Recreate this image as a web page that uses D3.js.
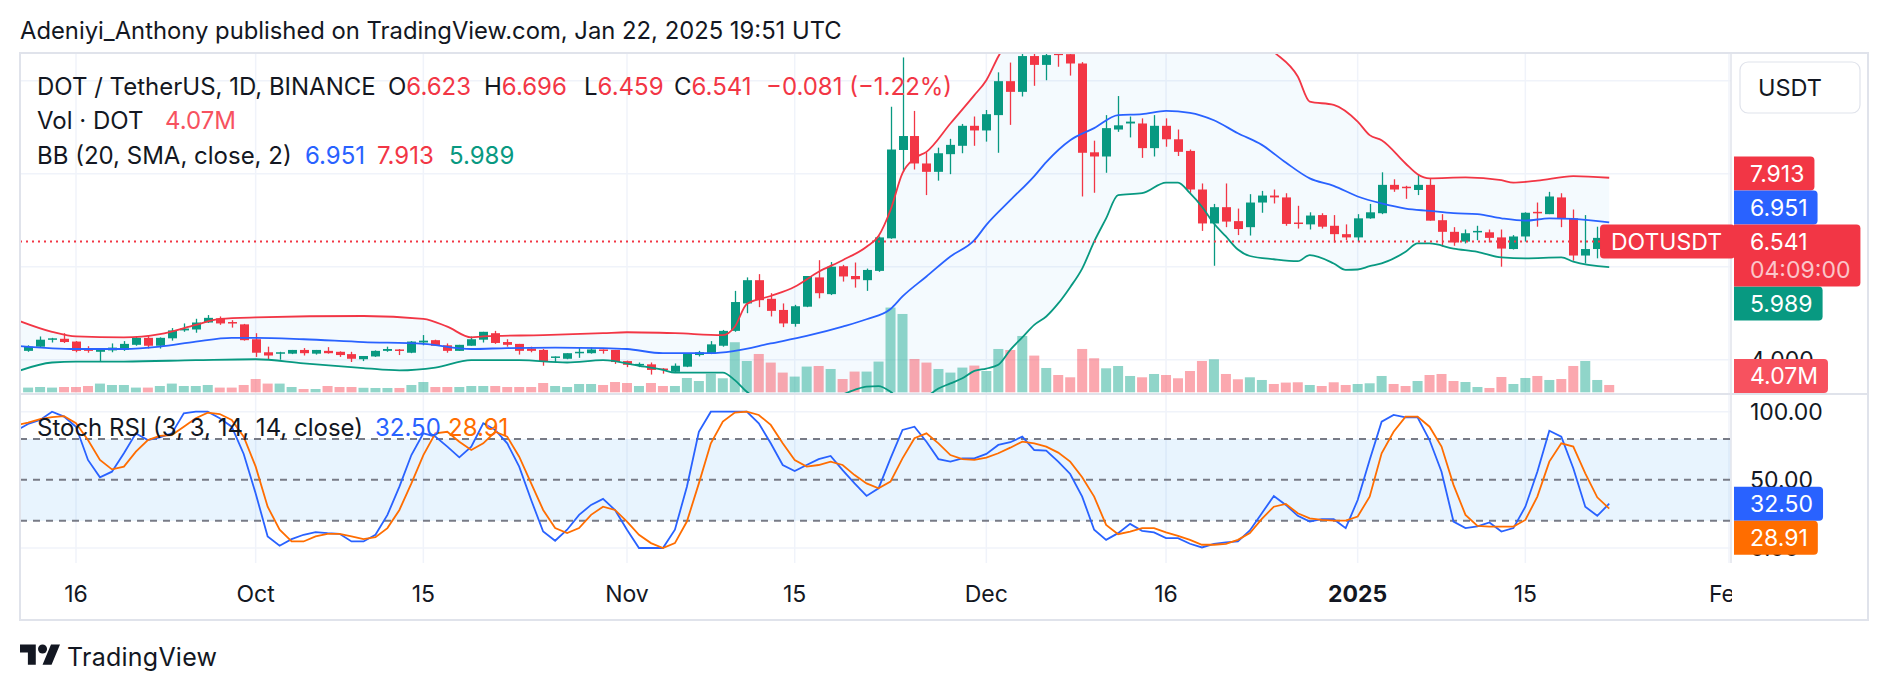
<!DOCTYPE html>
<html>
<head>
<meta charset="utf-8">
<script src="https://cdn.jsdelivr.net/npm/d3@7"></script>
<style>
  body { margin: 0; background: #fff; }
  svg { display: block; font-family: Inter, "Noto Sans", sans-serif; }
</style>
</head>
<body>
<div id="chart"></div>
<script>
var width = 1888,
    height = 690;

// daily candles, first one on Sep 12 2024
var firstDay = "2024-09-12";
var open = [
  4.19, 4.28, 4.43, 4.45, 4.39, 4.24, 4.17, 4.20, 4.21, 4.32, 4.47, 4.30, 4.46, 4.63, 4.65, 4.80, 4.89, 4.81, 4.76,
  4.44, 4.16, 4.14, 4.13, 4.21, 4.13, 4.19, 4.17, 4.12, 4.01, 4.07, 4.19, 4.22, 4.15, 4.37, 4.42, 4.31, 4.19, 4.30, 4.43, 4.57, 4.38, 4.34, 4.24, 4.21, 4.04, 4.02, 4.14, 4.14, 4.22, 4.21,
  3.97, 3.89, 3.90, 3.81, 3.74, 3.85, 4.10, 4.14, 4.30, 4.62, 5.21, 5.71, 5.31, 5.07, 4.77, 5.14, 5.77, 5.41, 6.01, 5.80, 5.71, 5.91, 6.61, 8.51, 8.81, 8.22, 8.04, 8.42, 8.60, 9.03,
  8.93, 9.26, 9.99, 9.76, 10.53, 10.34, 10.62, 10.57, 10.37, 8.46, 8.37, 8.95, 9.08, 9.08, 8.55, 9.03, 8.74, 8.49, 7.66, 6.93, 7.28, 6.98, 6.85, 7.38, 7.53, 7.49, 6.95, 6.91, 7.11, 6.88, 6.70,
  6.63, 7.04, 7.15, 7.76, 7.72, 7.65, 7.76, 7.00, 6.75, 6.54, 6.74, 6.74, 6.63, 6.38, 6.65, 7.18, 7.13, 7.49, 7.04, 6.24, 6.38, 6.623
];
var high = [
  4.31, 4.50, 4.47, 4.57, 4.40, 4.29, 4.22, 4.35, 4.40, 4.50, 4.53, 4.48, 4.68, 4.78, 4.88, 4.96, 4.93, 4.85, 4.77,
  4.57, 4.28, 4.17, 4.21, 4.25, 4.21, 4.27, 4.18, 4.17, 4.08, 4.20, 4.28, 4.23, 4.40, 4.53, 4.43, 4.35, 4.32, 4.50, 4.60, 4.62, 4.44, 4.34, 4.28, 4.23, 4.07, 4.14, 4.26, 4.26, 4.22, 4.21,
  3.98, 3.94, 3.94, 3.82, 3.92, 4.14, 4.19, 4.40, 4.64, 5.48, 5.77, 5.84, 5.43, 5.21, 5.18, 5.80, 6.14, 6.10, 6.04, 6.09, 5.96, 6.65, 9.44, 10.50, 9.35, 8.46, 8.56, 8.75, 9.07, 9.23,
  9.37, 10.18, 10.39, 10.75, 10.80, 10.70, 10.75, 10.80, 10.40, 8.71, 9.26, 9.67, 9.23, 9.19, 9.26, 9.19, 8.95, 8.52, 7.79, 7.35, 7.79, 7.25, 7.56, 7.63, 7.66, 7.58, 7.31, 7.17, 7.15, 7.11, 6.91,
  7.13, 7.35, 8.03, 7.88, 7.74, 7.99, 7.90, 7.13, 6.85, 6.80, 6.88, 6.80, 6.80, 6.68, 7.17, 7.38, 7.61, 7.58, 7.23, 7.11, 6.86, 6.696
];
var low = [
  4.17, 4.26, 4.37, 4.36, 4.16, 4.15, 3.97, 4.16, 4.19, 4.30, 4.24, 4.24, 4.41, 4.60, 4.58, 4.79, 4.75, 4.69, 4.41,
  4.06, 4.01, 4.00, 4.12, 4.09, 4.11, 4.13, 4.06, 3.95, 3.97, 4.06, 4.17, 4.10, 4.14, 4.31, 4.30, 4.15, 4.19, 4.30, 4.37, 4.34, 4.28, 4.11, 4.16, 3.87, 3.94, 4.01, 4.04, 4.13, 4.13, 3.91,
  3.84, 3.84, 3.68, 3.70, 3.73, 3.84, 4.07, 4.12, 4.28, 4.60, 5.00, 5.13, 4.93, 4.70, 4.71, 5.13, 5.32, 5.39, 5.68, 5.55, 5.48, 5.89, 6.60, 8.04, 8.09, 7.54, 7.85, 7.99, 8.44, 8.60,
  8.69, 8.45, 9.05, 9.66, 9.89, 10.01, 10.30, 10.11, 7.51, 7.59, 8.02, 8.90, 8.78, 8.34, 8.37, 8.58, 8.38, 7.59, 6.77, 6.02, 6.85, 6.68, 6.67, 7.16, 7.36, 6.88, 6.82, 6.80, 6.82, 6.52, 6.57,
  6.54, 7.03, 7.13, 7.61, 7.46, 7.54, 6.99, 6.43, 6.45, 6.50, 6.57, 6.52, 6.00, 6.37, 6.54, 6.86, 7.13, 6.85, 6.13, 6.07, 6.18, 6.459
];
var close = [
  4.28, 4.43, 4.46, 4.38, 4.19, 4.19, 4.21, 4.26, 4.34, 4.47, 4.30, 4.47, 4.63, 4.67, 4.80, 4.90, 4.78, 4.78, 4.42,
  4.15, 4.09, 4.16, 4.21, 4.14, 4.21, 4.14, 4.10, 4.02, 4.08, 4.19, 4.23, 4.19, 4.39, 4.41, 4.30, 4.19, 4.32, 4.44, 4.60, 4.36, 4.32, 4.19, 4.19, 3.96, 4.07, 4.14, 4.17, 4.22, 4.19, 3.95,
  3.89, 3.91, 3.78, 3.78, 3.87, 4.14, 4.16, 4.33, 4.62, 5.24, 5.71, 5.28, 5.05, 4.78, 5.15, 5.80, 5.43, 6.00, 5.79, 5.73, 5.93, 6.63, 8.52, 8.81, 8.22, 8.04, 8.44, 8.62, 9.03, 8.93,
  9.28, 9.99, 9.76, 10.53, 10.34, 10.55, 10.55, 10.37, 8.45, 8.37, 8.98, 9.04, 9.12, 8.55, 9.03, 8.74, 8.47, 7.66, 6.93, 7.28, 6.97, 6.81, 7.38, 7.53, 7.49, 6.92, 6.93, 7.10, 6.86, 6.70, 6.63,
  7.04, 7.17, 7.76, 7.66, 7.69, 7.76, 6.99, 6.75, 6.52, 6.72, 6.77, 6.62, 6.39, 6.65, 7.16, 7.15, 7.51, 7.04, 6.24, 6.38, 6.62, 6.541
];
// volume in millions of DOT
var volume = [
  2.62, 2.95, 2.62, 2.95, 2.95, 3.51, 4.85, 4.07, 4.07, 2.62, 2.62, 3.51, 4.85, 3.51, 3.51, 4.07, 2.62, 2.62, 4.07,
  7.41, 4.85, 4.85, 2.95, 1.84, 1.84, 3.51, 2.95, 2.95, 2.51, 2.40, 2.40, 2.40, 4.07, 5.74, 2.95, 2.95, 2.95, 3.51, 3.51, 3.51, 2.95, 2.95, 2.95, 5.18, 3.51, 2.95, 4.63, 4.63, 4.07, 5.74,
  5.18, 3.51, 5.18, 3.51, 3.51, 7.97, 6.30, 10.31, 7.81, 27.9, 17.45, 21.35, 16.56, 10.98, 8.75, 14.33, 14.66, 12.99, 7.41, 11.54, 11.54, 17.12, 47.22, 43.65, 18.56, 16.56, 12.99, 10.98, 13.77, 14.89,
  11.87, 24.14, 23.58, 31.39, 20.46, 13.55, 9.64, 8.36, 24.14, 18.96, 13.38, 14.66, 9.09, 8.36, 10.20, 9.64, 7.81, 11.87, 17.45, 18.40, 10.20, 7.25, 8.36, 6.86, 4.63, 5.41, 5.58, 4.07, 3.51, 5.58, 4.07,
  4.63, 5.02, 9.09, 4.63, 3.51, 6.30, 9.64, 10.20, 6.30, 5.74, 2.95, 2.40, 8.53, 4.63, 7.97, 9.09, 6.86, 7.41, 14.66, 17.45, 6.86, 4.07
];

// Bollinger Bands (20, 2)
var bbBasis = [
  ["2024-09-11", 4.30], ["2024-09-16", 4.23], ["2024-09-20", 4.23], ["2024-09-23", 4.28], ["2024-09-26", 4.39],
  ["2024-09-29", 4.47], ["2024-10-01", 4.47], ["2024-10-05", 4.44], ["2024-10-10", 4.38], ["2024-10-15", 4.34],
  ["2024-10-19", 4.23], ["2024-10-22", 4.25], ["2024-10-26", 4.26], ["2024-10-30", 4.25], ["2024-11-01", 4.23],
  ["2024-11-04", 4.14], ["2024-11-08", 4.14], ["2024-11-10", 4.19], ["2024-11-13", 4.35], ["2024-11-16", 4.51],
  ["2024-11-19", 4.71], ["2024-11-21", 4.87], ["2024-11-23", 5.09], ["2024-11-24", 5.36], ["2024-11-26", 5.79],
  ["2024-11-28", 6.22], ["2024-11-30", 6.57], ["2024-12-01", 6.90], ["2024-12-03", 7.43], ["2024-12-05", 7.95],
  ["2024-12-06", 8.25], ["2024-12-08", 8.72], ["2024-12-10", 8.98], ["2024-12-12", 9.26], ["2024-12-14", 9.28],
  ["2024-12-16", 9.35], ["2024-12-18", 9.31], ["2024-12-20", 9.15], ["2024-12-22", 8.87], ["2024-12-24", 8.62],
  ["2024-12-26", 8.24], ["2024-12-28", 7.90], ["2024-12-30", 7.74], ["2025-01-01", 7.51], ["2025-01-03", 7.36],
  ["2025-01-05", 7.25], ["2025-01-07", 7.20], ["2025-01-09", 7.15], ["2025-01-11", 7.13], ["2025-01-13", 7.04],
  ["2025-01-15", 6.99], ["2025-01-17", 7.04], ["2025-01-19", 7.03], ["2025-01-22", 6.951]
];
var bbUpper = [
  ["2024-09-11", 4.86], ["2024-09-14", 4.60], ["2024-09-16", 4.50], ["2024-09-20", 4.48], ["2024-09-23", 4.55],
  ["2024-09-26", 4.75], ["2024-09-28", 4.88], ["2024-10-01", 4.91], ["2024-10-10", 4.94], ["2024-10-15", 4.88],
  ["2024-10-17", 4.71], ["2024-10-19", 4.48], ["2024-10-20", 4.50], ["2024-10-25", 4.53], ["2024-10-30", 4.57],
  ["2024-11-01", 4.59], ["2024-11-05", 4.57], ["2024-11-09", 4.53], ["2024-11-10", 4.71], ["2024-11-11", 5.20],
  ["2024-11-13", 5.37], ["2024-11-15", 5.57], ["2024-11-17", 5.89], ["2024-11-19", 6.14], ["2024-11-21", 6.43],
  ["2024-11-22", 6.66], ["2024-11-23", 7.22], ["2024-11-24", 8.01], ["2024-11-25", 8.33], ["2024-11-26", 8.47],
  ["2024-11-28", 9.08], ["2024-11-30", 9.69], ["2024-12-01", 10.01], ["2024-12-02", 10.52], ["2024-12-04", 11.3],
  ["2024-12-07", 11.9], ["2024-12-10", 12.3], ["2024-12-14", 12.3], ["2024-12-18", 12.0], ["2024-12-22", 11.2],
  ["2024-12-25", 10.62], ["2024-12-27", 10.09], ["2024-12-28", 9.55], ["2024-12-30", 9.48], ["2025-01-01", 9.12],
  ["2025-01-02", 8.83], ["2025-01-03", 8.72], ["2025-01-05", 8.22], ["2025-01-06", 7.99], ["2025-01-07", 7.90],
  ["2025-01-10", 7.92], ["2025-01-13", 7.86], ["2025-01-14", 7.81], ["2025-01-16", 7.85], ["2025-01-19", 7.95],
  ["2025-01-22", 7.913]
];
var bbLower = [
  ["2024-09-11", 3.74], ["2024-09-14", 3.94], ["2024-09-16", 3.96], ["2024-09-20", 3.96], ["2024-09-26", 3.99],
  ["2024-10-01", 4.01], ["2024-10-05", 3.92], ["2024-10-10", 3.82], ["2024-10-13", 3.77], ["2024-10-16", 3.83],
  ["2024-10-19", 3.99], ["2024-10-23", 3.99], ["2024-10-27", 3.94], ["2024-10-30", 3.99], ["2024-11-02", 3.87],
  ["2024-11-04", 3.78], ["2024-11-05", 3.72], ["2024-11-09", 3.72], ["2024-11-10", 3.56], ["2024-11-11", 3.31],
  ["2024-11-13", 3.10], ["2024-11-16", 3.05], ["2024-11-18", 3.15], ["2024-11-20", 3.35], ["2024-11-21", 3.42],
  ["2024-11-22", 3.43], ["2024-11-23", 3.31], ["2024-11-24", 3.10], ["2024-11-25", 3.05], ["2024-11-26", 3.20],
  ["2024-11-27", 3.38], ["2024-11-28", 3.49], ["2024-11-29", 3.60], ["2024-11-30", 3.76], ["2024-12-01", 3.81],
  ["2024-12-02", 3.89], ["2024-12-03", 4.21], ["2024-12-04", 4.48], ["2024-12-05", 4.75], ["2024-12-06", 4.93],
  ["2024-12-07", 5.21], ["2024-12-08", 5.56], ["2024-12-09", 5.96], ["2024-12-10", 6.54], ["2024-12-11", 7.04],
  ["2024-12-12", 7.54], ["2024-12-14", 7.58], ["2024-12-16", 7.81], ["2024-12-17", 7.81], ["2024-12-18", 7.58],
  ["2024-12-19", 7.29], ["2024-12-20", 6.93], ["2024-12-21", 6.65], ["2024-12-22", 6.37], ["2024-12-23", 6.23],
  ["2024-12-25", 6.16], ["2024-12-27", 6.12], ["2024-12-28", 6.25], ["2024-12-30", 6.07], ["2024-12-31", 5.93],
  ["2025-01-01", 5.94], ["2025-01-02", 6.01], ["2025-01-03", 6.07], ["2025-01-05", 6.32], ["2025-01-06", 6.50],
  ["2025-01-07", 6.50], ["2025-01-09", 6.39], ["2025-01-11", 6.32], ["2025-01-13", 6.20], ["2025-01-15", 6.18],
  ["2025-01-18", 6.20], ["2025-01-19", 6.11], ["2025-01-22", 5.989]
];

// Stoch RSI (3, 3, 14, 14), daily from Sep 11 2024
var stochFirstDay = "2024-09-11";
var stochK = [
  86, 91, 94, 100, 96.4, 89, 64.6, 51.9, 56, 69.5, 84.1, 79.2, 81.2, 84.1, 98.8, 100, 100, 95.2, 89, 69,
  40, 8.5, 1.7, 6.5, 9.7, 11.6, 10.9, 10.4, 4.8, 4.8, 9.7, 24.3, 45, 68.2, 84.1, 81.7, 74.4, 66.5, 74.4, 91.5, 86.6, 76.8, 59.7, 35.2, 12.1, 5.3, 13.4, 24.3, 31.6, 36, 27.9,
  13.4, 0, 0, 0, 13.4, 45, 85.3, 100, 100, 100, 100, 91.5, 76.8, 60.9, 56.5, 60.9, 65.2, 67.5, 57.2, 47.4, 38.2, 43.8, 65.8, 86.6, 89, 78, 65.2, 63.4, 65.8, 65.8,
  69, 75.6, 77.6, 81.7, 71.9, 71.4, 63.4, 54.3, 37.7, 13.4, 6, 10.9, 17.7, 12.6, 11.4, 7.2, 7.2, 3.1, 0.4, 3.1, 4.1, 4.8, 12.9, 25.5, 38.2, 31.6, 23.6, 19.4, 21.1, 21.1, 14.6,
  35.2, 64.6, 92.7, 97.6, 95.9, 95.9, 79.2, 56, 19.4, 14.6, 15.8, 18.7, 12.1, 14.6, 30.3, 56, 86, 81.7, 58.5, 30.3, 23.6, 32.5
];
var stochD = [
  90, 92, 94.5, 96, 96.8, 91.5, 79.2, 64.6, 57.7, 59.7, 70.7, 79.2, 82.2, 82.9, 89, 95.2, 99.3, 98.3, 94, 81.7,
  59.7, 30.3, 13.4, 4.8, 4.8, 8.5, 10.4, 10.4, 8.5, 6.5, 8, 14.6, 27.9, 47.4, 68.2, 84.1, 85.3, 78, 71.9, 76.8, 85.3, 81.7, 67, 47.4, 27.9, 14.6, 10.9, 14.6, 24.3, 30.3, 27.9,
  19.4, 9.7, 3.6, 0, 3.6, 19.4, 47.4, 76.8, 92.7, 99.3, 100, 97.6, 90.3, 76.8, 64.6, 59.7, 60.9, 63.4, 60.9, 53.5, 47.4, 43.8, 48.7, 65.8, 80.5, 84.1, 76.8, 68.2, 65.2, 64.6,
  66.3, 69.5, 73.6, 78, 76.8, 74.4, 70, 63.4, 51.9, 37.7, 16.9, 10.1, 12.1, 14.6, 14.6, 11.4, 8.9, 6, 2.4, 2.4, 3.1, 6, 10.9, 21.4, 30.3, 32.3, 25.5, 21.8, 20.6, 20.1, 20.1,
  23.1, 37.7, 69.5, 85.3, 96.4, 96.4, 89, 74.4, 46.3, 24.3, 16.2, 15.7, 15.7, 15.7, 20.6, 37.7, 63.4, 76.8, 74.4, 54.8, 37.2, 28.91
];

var timeTicks = ["2024-09-16", "2024-10-01", "2024-10-15", "2024-11-01", "2024-11-15", "2024-12-01", "2024-12-16", "2025-01-01", "2025-01-15", "2025-02-01"];
var timeLabels = ["16", "Oct", "15", "Nov", "15", "Dec", "16", "2025", "15", "Feb"];
var priceTicks = [4, 6, 8, 10];
var stochTicks = [0, 50, 100];
var stochLevels = [20, 50, 80];

var colors = { up: "#089981", down: "#F23645", volUp: "rgba(34,171,148,0.5)", volDown: "rgba(247,82,95,0.5)",
               basis: "#2962FF", upper: "#F23645", lower: "#089981", k: "#2962FF", d: "#FF6D00",
               text: "#131722", grid: "#f0f3fa", border: "#e0e3eb" };

// layout
var plotLeft = 20, plotRight = 1731, axisRight = 1868,
    priceTop = 53, priceBottom = 393, stochTop = 395, stochBottom = 563, timeBottom = 620;

var parseDay = d3.utcParse("%Y-%m-%d");

var x = d3.scaleUtc()
    .domain([parseDay("2024-09-16"), parseDay("2025-02-01")])
    .range([76, 1729]);

var y = d3.scaleLinear()
    .domain([4, 10])
    .range([359.7, 80.7]);

var yVol = d3.scaleLinear()
    .domain([0, 47.2])
    .range([392.3, 307.6]);

var yStoch = d3.scaleLinear()
    .domain([0, 100])
    .range([548, 411.7]);

var candles = open.map(function(o, i) {
  return { date: d3.utcDay.offset(parseDay(firstDay), i), o: o, h: high[i], l: low[i], c: close[i], v: volume[i] };
});
var stoch = stochK.map(function(k, i) {
  return { date: d3.utcDay.offset(parseDay(stochFirstDay), i), k: k, d: stochD[i] };
});

var svg = d3.select("#chart").append("svg")
    .attr("width", width)
    .attr("height", height);

svg.append("rect").attr("width", width).attr("height", height).attr("fill", "#fff");

var defs = svg.append("defs");
defs.append("clipPath").attr("id", "clip-price").append("rect")
    .attr("x", plotLeft).attr("y", priceTop)
    .attr("width", plotRight - plotLeft).attr("height", priceBottom - priceTop);
defs.append("clipPath").attr("id", "clip-stoch").append("rect")
    .attr("x", plotLeft).attr("y", stochTop)
    .attr("width", plotRight - plotLeft).attr("height", stochBottom - stochTop);

// grid
var grid = svg.append("g");
grid.selectAll(".vgrid").data(timeTicks).enter().append("line")
    .attr("x1", function(d) { return x(parseDay(d)); })
    .attr("x2", function(d) { return x(parseDay(d)); })
    .attr("y1", priceTop).attr("y2", stochBottom)
    .attr("stroke", colors.grid).attr("stroke-width", 1.5);
grid.selectAll(".hgrid").data(priceTicks).enter().append("line")
    .attr("x1", plotLeft).attr("x2", plotRight)
    .attr("y1", function(d) { return y(d); }).attr("y2", function(d) { return y(d); })
    .attr("stroke", colors.grid).attr("stroke-width", 1.5);

// price pane
var price = svg.append("g").attr("clip-path", "url(#clip-price)");

var bbLine = d3.line()
    .x(function(d) { return x(parseDay(d[0])); })
    .y(function(d) { return y(d[1]); })
    .curve(d3.curveMonotoneX);

price.append("path")
    .attr("d", bbLine(bbUpper) + "L" + bbLine(bbLower.slice().reverse()).slice(1) + "Z")
    .attr("fill", "rgba(33,150,243,0.05)");

price.selectAll(".vol").data(candles).enter().append("rect")
    .attr("x", function(d) { return x(d.date) - 5; })
    .attr("width", 10)
    .attr("y", function(d) { return yVol(d.v); })
    .attr("height", function(d) { return yVol(0) - yVol(d.v); })
    .attr("fill", function(d) { return d.c >= d.o ? colors.volUp : colors.volDown; });

price.selectAll(".wick").data(candles).enter().append("line")
    .attr("x1", function(d) { return Math.round(x(d.date)) + 0.5; })
    .attr("x2", function(d) { return Math.round(x(d.date)) + 0.5; })
    .attr("y1", function(d) { return y(d.h); })
    .attr("y2", function(d) { return y(d.l); })
    .attr("stroke", function(d) { return d.c >= d.o ? colors.up : colors.down; })
    .attr("stroke-width", 1.3);

price.selectAll(".body").data(candles).enter().append("rect")
    .attr("x", function(d) { return Math.round(x(d.date)) - 4; })
    .attr("width", 9)
    .attr("y", function(d) { return y(Math.max(d.o, d.c)); })
    .attr("height", function(d) { return Math.max(1.5, Math.abs(y(d.o) - y(d.c))); })
    .attr("fill", function(d) { return d.c >= d.o ? colors.up : colors.down; });

[[bbBasis, colors.basis], [bbUpper, colors.upper], [bbLower, colors.lower]].forEach(function(b) {
  price.append("path")
      .attr("d", bbLine(b[0]))
      .attr("fill", "none")
      .attr("stroke", b[1])
      .attr("stroke-width", 1.8);
});

var last = candles[candles.length - 1];
price.append("line")
    .attr("x1", plotLeft).attr("x2", plotRight)
    .attr("y1", y(last.c)).attr("y2", y(last.c))
    .attr("stroke", colors.down).attr("stroke-width", 2)
    .attr("stroke-dasharray", "2,4");

// stoch rsi pane
var st = svg.append("g").attr("clip-path", "url(#clip-stoch)");
st.append("rect")
    .attr("x", plotLeft).attr("width", plotRight - plotLeft)
    .attr("y", yStoch(80)).attr("height", yStoch(20) - yStoch(80))
    .attr("fill", "rgba(33,150,243,0.1)");
st.selectAll(".sgrid").data([0, 100]).enter().append("line")
    .attr("x1", plotLeft).attr("x2", plotRight)
    .attr("y1", function(d) { return yStoch(d); }).attr("y2", function(d) { return yStoch(d); })
    .attr("stroke", colors.grid).attr("stroke-width", 1.5);
st.selectAll(".level").data(stochLevels).enter().append("line")
    .attr("x1", plotLeft).attr("x2", plotRight)
    .attr("y1", function(d) { return yStoch(d); }).attr("y2", function(d) { return yStoch(d); })
    .attr("stroke", "#787B86").attr("stroke-width", 2)
    .attr("stroke-dasharray", "7,6");

var kLine = d3.line().x(function(d) { return x(d.date); }).y(function(d) { return yStoch(d.k); });
var dLine = d3.line().x(function(d) { return x(d.date); }).y(function(d) { return yStoch(d.d); });
st.append("path").datum(stoch).attr("d", kLine)
    .attr("fill", "none").attr("stroke", colors.k).attr("stroke-width", 1.8);
st.append("path").datum(stoch).attr("d", dLine)
    .attr("fill", "none").attr("stroke", colors.d).attr("stroke-width", 1.8);

// frame
var frame = svg.append("g").attr("fill", "none").attr("stroke", colors.border);
frame.append("rect")
    .attr("x", plotLeft).attr("y", priceTop)
    .attr("width", axisRight - plotLeft).attr("height", timeBottom - priceTop)
    .attr("stroke-width", 2);
frame.append("line")
    .attr("x1", plotRight).attr("x2", plotRight)
    .attr("y1", priceTop).attr("y2", stochBottom)
    .attr("stroke-width", 1.5);
frame.append("line")
    .attr("x1", plotLeft).attr("x2", axisRight)
    .attr("y1", 394).attr("y2", 394)
    .attr("stroke-width", 2);

// legends
function legend(yc, parts) {
  var t = svg.append("text")
      .attr("y", yc).attr("dy", "0.36em")
      .attr("font-size", 24)
      .attr("fill", colors.text);
  parts.forEach(function(p) {
    var s = t.append("tspan").text(p.text);
    if (p.x != null) s.attr("x", p.x);
    if (p.color) s.attr("fill", p.color);
  });
}
var fmt3 = d3.format(".3f"), fmt2 = d3.format(".2f");
legend(86, [
  { text: "DOT / TetherUS, 1D, BINANCE", x: 37 },
  { text: "O", x: 388 }, { text: fmt3(last.o), color: colors.down },
  { text: "H", x: 484 }, { text: fmt3(last.h), color: colors.down },
  { text: "L", x: 584 }, { text: fmt3(last.l), color: colors.down },
  { text: "C", x: 674 }, { text: fmt3(last.c), color: colors.down },
  { text: "\u22120.081 (\u22121.22%)", x: 766, color: colors.down }
]);
legend(120, [
  { text: "Vol \u00b7 DOT", x: 37 },
  { text: fmt2(last.v) + "M", x: 165, color: "#F7525F" }
]);
legend(155, [
  { text: "BB (20, SMA, close, 2)", x: 37 },
  { text: fmt3(bbBasis[bbBasis.length - 1][1]), x: 305, color: colors.basis },
  { text: fmt3(bbUpper[bbUpper.length - 1][1]), x: 377, color: colors.upper },
  { text: fmt3(bbLower[bbLower.length - 1][1]), x: 449, color: colors.lower }
]);
legend(427, [
  { text: "Stoch RSI (3, 3, 14, 14, close)", x: 37 },
  { text: fmt2(stochK[stochK.length - 1]), x: 375, color: colors.k },
  { text: fmt2(stochD[stochD.length - 1]), x: 448, color: colors.d }
]);

// colored price scale labels
var kLast = stoch[stoch.length - 1];
function stack(items, fixed, lo, hi) {
  var above = items.filter(function(d) { return d.y < fixed.y; }).sort(function(a, b) { return b.y - a.y; });
  var below = items.filter(function(d) { return d.y >= fixed.y; }).sort(function(a, b) { return a.y - b.y; });
  var edge = fixed.top;
  above.forEach(function(d) { d.y = Math.min(d.y, edge - 17); edge = d.y - 17; });
  edge = fixed.bottom;
  below.forEach(function(d) { d.y = Math.max(d.y, edge + 17); edge = d.y + 17; });
  items.forEach(function(d) { d.y = Math.max(lo + 17, Math.min(hi - 17, d.y)); });
}
var bbItems = [
  { y: y(bbUpper[bbUpper.length - 1][1]), text: fmt3(bbUpper[bbUpper.length - 1][1]), fill: colors.upper },
  { y: y(bbBasis[bbBasis.length - 1][1]), text: fmt3(bbBasis[bbBasis.length - 1][1]), fill: colors.basis },
  { y: y(bbLower[bbLower.length - 1][1]), text: fmt3(bbLower[bbLower.length - 1][1]), fill: colors.lower }
];
stack(bbItems, { y: y(last.c), top: y(last.c) - 17, bottom: y(last.c) + 45 }, priceTop, priceBottom);
var stItems = [ { y: yStoch(kLast.d), text: fmt2(kLast.d), fill: colors.d } ];
stack(stItems, { y: yStoch(kLast.k), top: yStoch(kLast.k) - 17, bottom: yStoch(kLast.k) + 17 }, stochTop, stochBottom);

var labels = bbItems.concat([
  { y: y(last.c), text: fmt3(last.c), fill: colors.down, sub: "04:09:00" },
  { y: Math.min(yVol(last.v), priceBottom - 17), text: fmt2(last.v) + "M", fill: "#F7525F" },
  { y: yStoch(kLast.k), text: fmt2(kLast.k), fill: colors.k }
]).concat(stItems);

// spans covered by colored labels or the currency button
var covers = labels.map(function(d) { return [d.y - 17, d.y + (d.sub ? 45 : 17)]; }).concat([[62, 113]]);
function hidden(yc) {
  return covers.some(function(c) { return yc - 8 >= c[0] && yc + 8 <= c[1]; });
}

// axis tick labels
var axis = svg.append("g").attr("font-size", 23).attr("fill", colors.text);
axis.selectAll(".pt").data(priceTicks.filter(function(d) { return !hidden(y(d)); })).enter().append("text")
    .attr("x", 1750).attr("y", function(d) { return y(d); }).attr("dy", "0.36em")
    .text(function(d) { return fmt3(d); });
axis.selectAll(".stt").data(stochTicks.filter(function(d) { return !hidden(yStoch(d)); })).enter().append("text")
    .attr("x", 1750).attr("y", function(d) { return yStoch(d); }).attr("dy", "0.36em")
    .text(function(d) { return fmt2(d); });
axis.selectAll(".tt").data(timeTicks).enter().append("text")
    .attr("x", function(d) { return x(parseDay(d)); })
    .attr("y", 594).attr("dy", "0.36em")
    .attr("text-anchor", "middle")
    .attr("font-weight", function(d, i) { return timeLabels[i] === "2025" ? 700 : 400; })
    .text(function(d, i) { return timeLabels[i]; });
// time labels do not spill onto the price scale
svg.append("rect").attr("x", plotRight + 1).attr("y", stochBottom + 1)
    .attr("width", axisRight - plotRight - 2).attr("height", timeBottom - stochBottom - 2)
    .attr("fill", "#fff");

// currency button
svg.append("rect")
    .attr("x", 1740).attr("y", 62).attr("width", 120).attr("height", 51).attr("rx", 8)
    .attr("fill", "#fff").attr("stroke", colors.border).attr("stroke-width", 1.2);
svg.append("text").attr("x", 1758).attr("y", 88).attr("dy", "0.36em")
    .attr("font-size", 23.5).attr("fill", colors.text).text("USDT");

function rightRounded(x0, y0, w, h, r) {
  return "M" + x0 + "," + y0 + "H" + (x0 + w - r) + "Q" + (x0 + w) + "," + y0 + " " + (x0 + w) + "," + (y0 + r) +
         "V" + (y0 + h - r) + "Q" + (x0 + w) + "," + (y0 + h) + " " + (x0 + w - r) + "," + (y0 + h) + "H" + x0 + "Z";
}
function scaleLabel(d) {
  var h = d.sub ? 62 : 34;
  var g = svg.append("g");
  var p = g.append("path").attr("fill", d.fill);
  var t = g.append("text").attr("x", 1750).attr("y", d.y).attr("dy", "0.36em")
      .attr("font-size", 23).attr("fill", "#fff").text(d.text);
  var w = t.node().getComputedTextLength();
  if (d.sub) {
    var s = g.append("text").attr("x", 1750).attr("y", d.y + 28).attr("dy", "0.36em")
        .attr("font-size", 23).attr("fill", "rgba(255,255,255,0.72)").text(d.sub);
    w = Math.max(w, s.node().getComputedTextLength());
  }
  p.attr("d", rightRounded(1734, d.y - 17, w + 26, h, 4));
}
labels.forEach(scaleLabel);

// symbol label on the price line
var sym = svg.append("g");
var symText = sym.append("text").attr("y", y(last.c)).attr("dy", "0.36em")
    .attr("font-size", 23).attr("fill", "#fff").text("DOTUSDT");
var sw = symText.node().getComputedTextLength();
symText.attr("x", plotRight - 9 - sw);
sym.insert("rect", "text")
    .attr("x", plotRight - sw - 20).attr("y", y(last.c) - 17)
    .attr("width", sw + 24).attr("height", 34).attr("rx", 4)
    .attr("fill", colors.down);

// title
svg.append("text")
    .attr("x", 20).attr("y", 30).attr("dy", "0.36em")
    .attr("font-size", 23.8).attr("fill", colors.text)
    .text("Adeniyi_Anthony published on TradingView.com, Jan 22, 2025 19:51 UTC");

// TradingView logo
var logo = svg.append("g").attr("fill", colors.text);
logo.append("g").attr("transform", "translate(20,644.5) scale(1.127)")
    .call(function(g) {
      g.append("path").attr("d", "M14 22H7V11H0V4h14v18zM28 22h-8l7.5-18h8L28 22z").attr("transform", "translate(0,-4)");
      g.append("circle").attr("cx", 20).attr("cy", 4).attr("r", 4);
    });
logo.append("text")
    .attr("x", 67).attr("y", 657).attr("dy", "0.36em")
    .attr("font-size", 25).attr("textLength", 150).attr("lengthAdjust", "spacing")
    .text("TradingView");
</script>
</body>
</html>
